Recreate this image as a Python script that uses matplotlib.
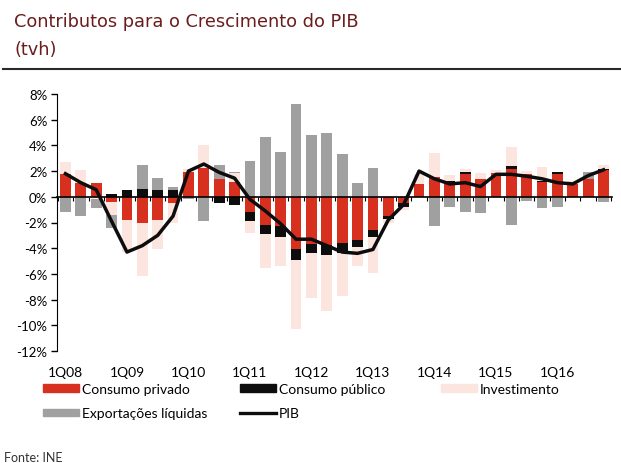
import matplotlib
matplotlib.use('Agg')
import matplotlib.pyplot as plt
import numpy as np
from matplotlib.patches import Patch
from matplotlib.lines import Line2D

# quarters 1Q08 .. 4Q16
quarters = [f'{q}Q{y:02d}' for y in range(8, 17) for q in range(1, 5)]
year_labels = ['1Q08', '1Q09', '1Q10', '1Q11', '1Q12', '1Q13', '1Q14', '1Q15', '1Q16']

consumo_privado = [1.8, 1.05, 1.1, -0.4, -1.8, -2.0, -1.8, -0.5,
                   1.9, 2.25, 1.4, 1.15, -1.2, -2.2, -2.3, -4.1,
                   -3.7, -3.75, -3.6, -3.35, -2.6, -1.5, -0.5, 1.0,
                   1.55, 1.15, 1.75, 1.4, 1.85, 2.2, 1.8, 1.15,
                   1.75, 1.0, 1.4, 2.1]
consumo_publico = [0.0, 0.0, 0.0, 0.25, 0.5, 0.57, 0.55, 0.5,
                   0.0, 0.0, -0.5, -0.6, -0.7, -0.7, -0.8, -0.8,
                   -0.7, -0.75, -0.8, -0.55, -0.5, -0.25, -0.3, 0.0,
                   0.0, 0.05, 0.15, 0.0, 0.0, 0.2, 0.0, 0.05,
                   0.15, 0.0, 0.0, 0.05]
investimento = [0.9, 1.05, -0.2, -1.0, -2.5, -4.2, -2.3, -1.5,
                0.3, 1.8, 0.0, 0.7, -0.9, -2.65, -2.3, -5.4,
                -3.5, -4.4, -3.35, -1.5, -2.8, -0.3, -0.2, 0.8,
                1.85, 0.5, 0.3, 0.45, 0.2, 1.5, 0.2, 1.1,
                -0.1, 0.2, 0.0, 0.3]
exportacoes = [-1.15, -1.5, -0.7, -1.0, 0.0, 1.9, 0.95, 0.3,
               -0.2, -1.9, 1.05, 0.1, 2.75, 4.65, 3.5, 7.2,
               4.8, 5.0, 3.35, 1.1, 2.27, 0.0, 0.0, 0.0,
               -2.3, -0.8, -1.15, -1.25, 0.0, -2.2, -0.3, -0.9,
               -0.7, 0.0, 0.5, -0.4]
pib = [1.8, 1.1, 0.55, -1.9, -4.3, -3.8, -3.0, -1.5,
       2.0, 2.55, 1.9, 1.45, -0.2, -1.1, -2.1, -3.3,
       -3.3, -3.8, -4.3, -4.4, -4.1, -1.8, -0.6, 2.0,
       1.4, 1.0, 1.1, 0.8, 1.75, 1.75, 1.6, 1.4,
       1.1, 1.0, 1.65, 2.1]

series = [
    ('Consumo privado', consumo_privado, '#d7301f'),
    ('Consumo público', consumo_publico, '#0d0d0d'),
    ('Investimento', investimento, '#fce5df'),
    ('Exportações líquidas', exportacoes, '#a0a0a0'),
]

plt.rcParams['font.family'] = ['Lato', 'DejaVu Sans']

fig = plt.figure(figsize=(6.21, 4.64), dpi=100)
ax = fig.add_axes([57 / 621, 112 / 464, (612 - 57) / 621, (369 - 112) / 464])

x = np.arange(len(quarters))
pos_base = np.zeros(len(x))
neg_base = np.zeros(len(x))
for name, vals, col in series:
    v = np.array(vals)
    bottom = np.where(v >= 0, pos_base, neg_base)
    ax.bar(x, v, width=0.7, bottom=bottom, color=col, zorder=2)
    pos_base = pos_base + np.clip(v, 0, None)
    neg_base = neg_base + np.clip(v, None, 0)

ax.plot(x, pib, color='#0d0d0d', lw=2.5, zorder=4, solid_joinstyle='round')

ax.set_xlim(-0.55, len(x) - 0.45)
ax.set_ylim(-12, 8)
ax.set_yticks(np.arange(-12, 9, 2))
ax.set_yticklabels([f'{t}%' for t in range(-12, 9, 2)], fontsize=9.5)
ax.tick_params(axis='y', length=4, width=1, pad=3)

ax.spines['top'].set_visible(False)
ax.spines['right'].set_visible(False)
ax.spines['bottom'].set_position(('data', 0))
ax.spines['bottom'].set_zorder(3)
ax.spines['bottom'].set_linewidth(1.2)

ax.set_xticks(x[::4])
ax.set_xticklabels(year_labels, fontsize=10)
ax.set_xticks(np.arange(-0.5, len(x), 1), minor=True)
ax.tick_params(axis='x', which='major', length=0, pad=122)
ax.tick_params(axis='x', which='minor', length=3, width=0.8)

# title block
fig.text(14 / 621, 1 - 22 / 464, 'Contributos para o Crescimento do PIB',
         fontsize=12.8, color='#6b1d1d', va='center', family='DejaVu Sans')
fig.text(14 / 621, 1 - 50 / 464, '(tvh)', fontsize=12.8, color='#6b1d1d',
         va='center', family='DejaVu Sans')
fig.add_artist(Line2D([0.005, 1.0], [1 - 70 / 464, 1 - 70 / 464],
                      transform=fig.transFigure, color='#2a2a2a', lw=1.5))

# legend in three columns
hkw = dict(frameon=False, loc='upper left', fontsize=10, handlelength=2.6,
           handleheight=0.45, handletextpad=0.2, labelspacing=0.9,
           borderpad=0, borderaxespad=0)
col1 = [Patch(color=series[0][2]), Patch(color=series[3][2])]
fig.legend(col1, [series[0][0], series[3][0]],
           bbox_to_anchor=(43 / 621, 1 - 384 / 464), **hkw)
col2 = [Patch(color=series[1][2]), Line2D([], [], color='#0d0d0d', lw=2.4)]
fig.legend(col2, [series[1][0], 'PIB'],
           bbox_to_anchor=(240 / 621, 1 - 384 / 464), **hkw)
fig.legend([Patch(color=series[2][2])], [series[2][0]],
           bbox_to_anchor=(441 / 621, 1 - 384 / 464), **hkw)

fig.text(4 / 621, 1 - 458 / 464, 'Fonte: INE', fontsize=9, color='#333333',
         va='center')

fig.savefig('out.png', dpi=100)
